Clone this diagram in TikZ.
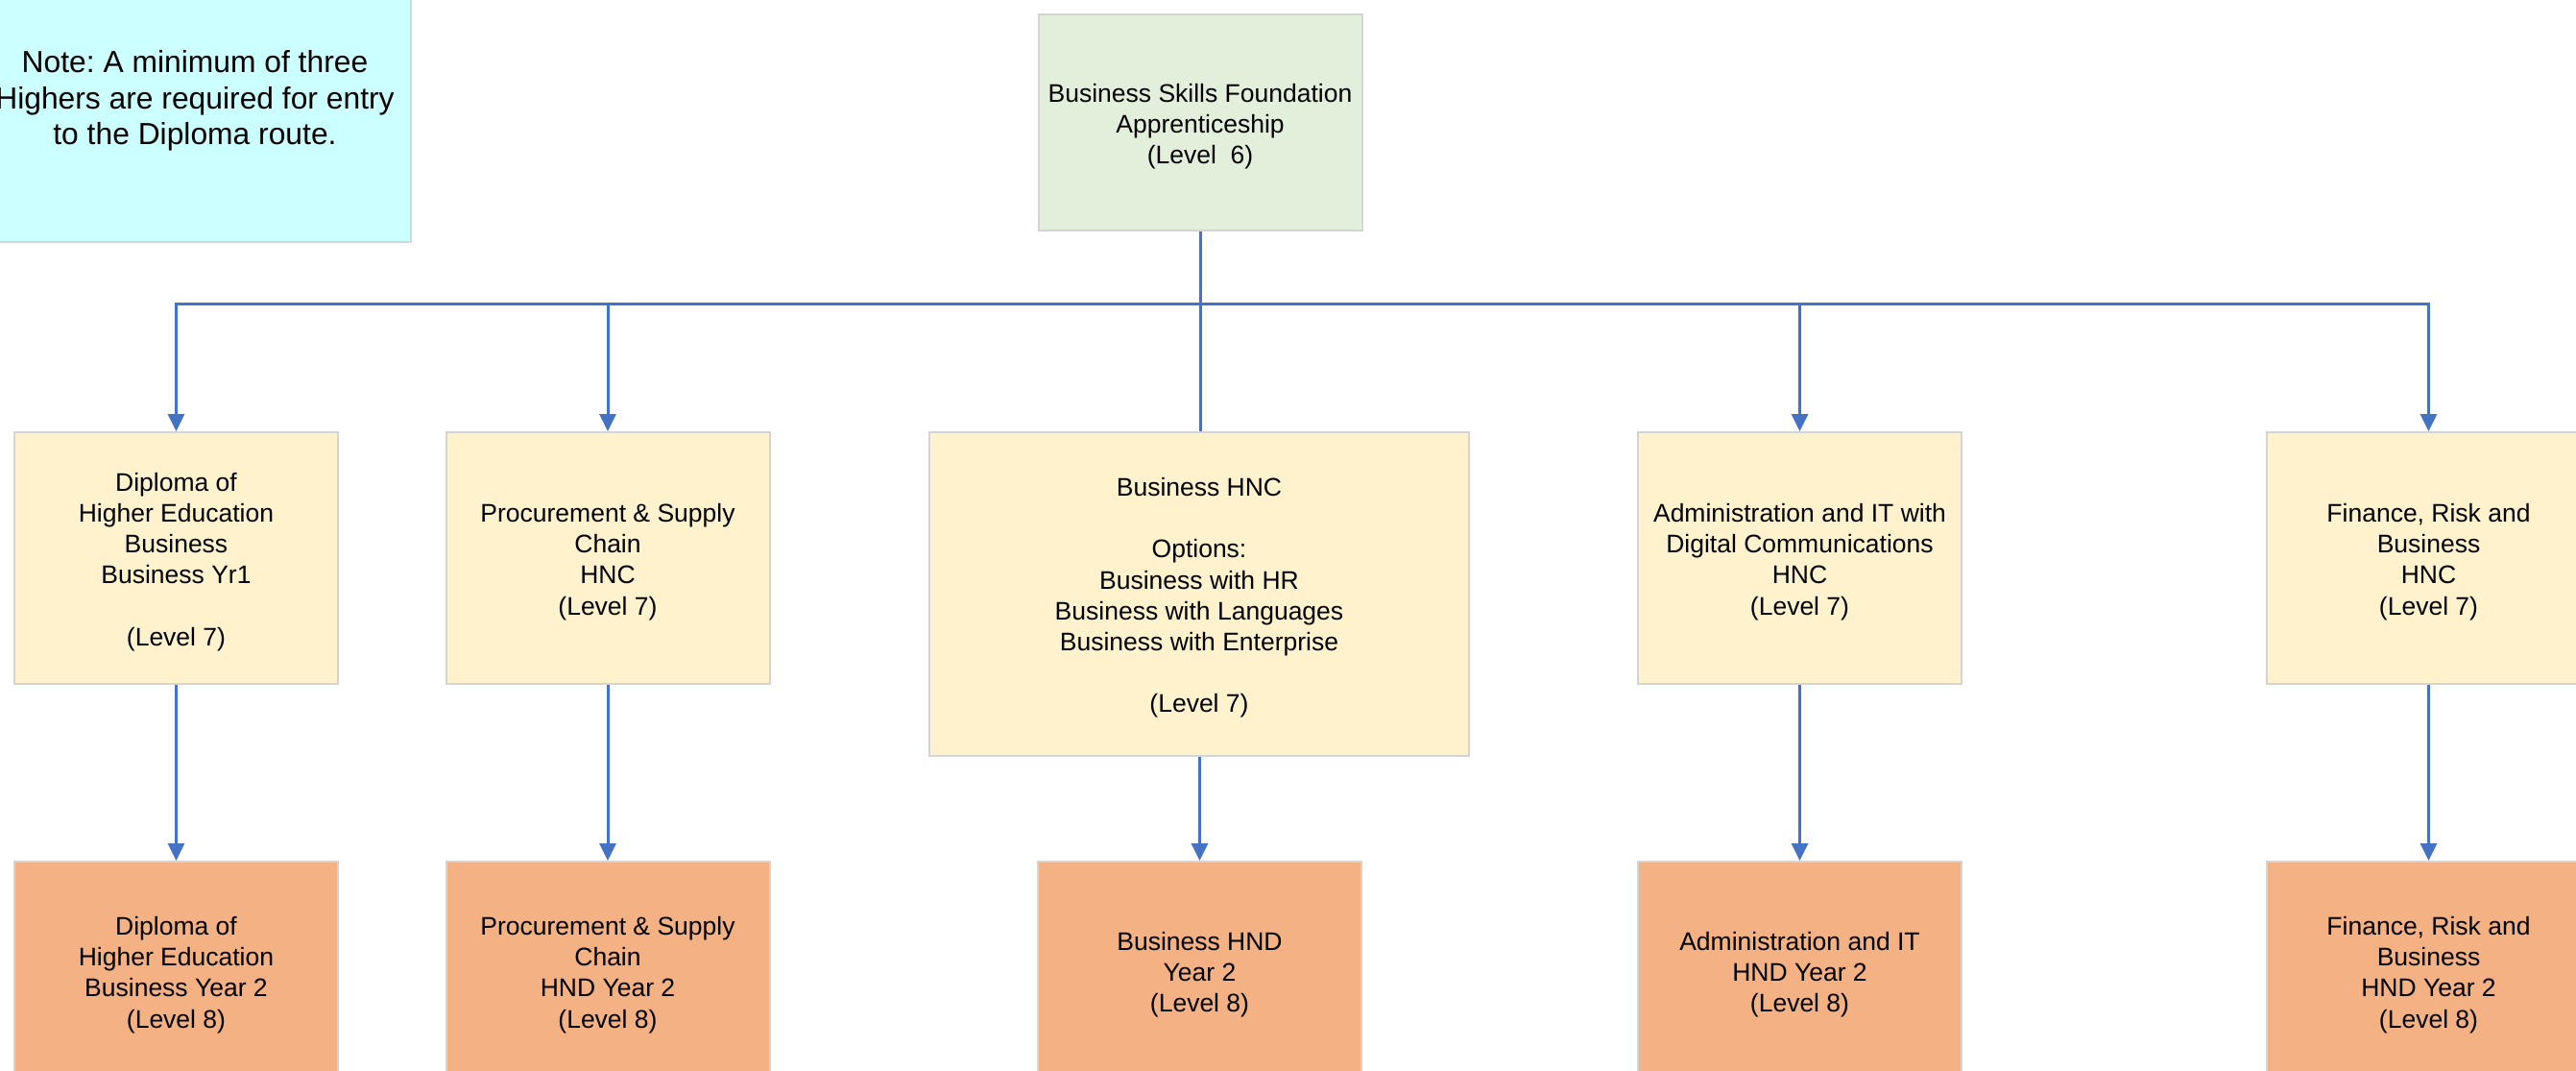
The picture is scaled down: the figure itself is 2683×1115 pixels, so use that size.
\documentclass[tikz,border=0pt]{standalone}
\usepackage{fontspec}
\setmainfont{Liberation Sans}
\frenchspacing
\usetikzlibrary{arrows.meta}
\definecolor{bluel}{HTML}{4472C4}
\definecolor{notec}{HTML}{CCFFFF}
\definecolor{greenc}{HTML}{E2EFDA}
\definecolor{yellowc}{HTML}{FFF2CC}
\definecolor{orangec}{HTML}{F4B183}
\definecolor{borderc}{HTML}{D4D4D4}
\newcommand\tstrut{\rule{0pt}{27pt}}
\newcommand\nstrut{\rule{0pt}{31pt}}
\begin{document}
\begin{tikzpicture}[x=1pt,y=-1pt,
  box/.style={draw=borderc, line width=2pt, rectangle, inner sep=0pt, align=center,
    font=\fontsize{26.5}{32.2}\selectfont, text=black},
  small/.style={box, minimum width=337pt},
  lvl7/.style={small, fill=yellowc, minimum height=262pt},
  lvl8/.style={small, fill=orangec, minimum height=228pt},
  conn/.style={draw=bluel, line width=3pt},
  arr/.style={conn, -{Triangle[width=17pt,length=18pt]}}]
\useasboundingbox (0,0) rectangle (2683,1115);
\clip (0,0) rectangle (2683,1115);
% note
\node[box, fill=notec, minimum width=450pt, minimum height=302pt,
  font=\fontsize{31.8}{37.5}\selectfont] (note) at (203,101)
  {\nstrut Note: A minimum of three\\ Highers are required for entry\\ to the Diploma route.};
% top
\node[small, fill=greenc, minimum height=225pt] (top) at (1250,127.5)
  {\tstrut Business Skills Foundation\\ Apprenticeship\\ (Level\ \ 6)};
% row 2
\node[lvl7] (a2) at (183.5,581) {\tstrut Diploma of\\ Higher Education\\ Business\\ Business Yr1\\ \mbox{}\\ (Level 7)};
\node[lvl7] (b2) at (633,581) {\tstrut Procurement \& Supply\\ Chain\\ HNC\\ (Level 7)};
\node[box, fill=yellowc, minimum width=562pt, minimum height=337pt] (c2) at (1249,618.5)
  {\tstrut Business HNC\\ \mbox{}\\ Options:\\ Business with HR\\ Business with Languages\\ Business with Enterprise\\ \mbox{}\\ (Level 7)};
\node[lvl7] (d2) at (1874.5,581) {\tstrut Administration and IT with\\ Digital Communications\\ HNC\\ (Level 7)};
\node[lvl7] (e2) at (2529.5,581) {\tstrut Finance, Risk and\\ Business\\ HNC\\ (Level 7)};
% row 3
\node[lvl8] (a3) at (183.5,1011) {\tstrut Diploma of\\ Higher Education\\ Business Year 2\\ (Level 8)};
\node[lvl8] (b3) at (633,1011) {\tstrut Procurement \& Supply\\ Chain\\ HND Year 2\\ (Level 8)};
\node[lvl8] (c3) at (1249.5,1011) {\tstrut Business HND\\ Year 2\\ (Level 8)};
\node[lvl8] (d3) at (1874.5,1011) {\tstrut Administration and IT\\ HND Year 2\\ (Level 8)};
\node[lvl8] (e3) at (2529.5,1011) {\tstrut Finance, Risk and\\ Business\\ HND Year 2\\ (Level 8)};
% connectors
\coordinate (bus) at (1250,317);
\draw[conn] (top.south) -- (top.south |- c2.north);
\draw[arr] (bus) -| (a2.north);
\draw[arr] (bus) -| (b2.north);
\draw[arr] (bus) -| (d2.north);
\draw[arr] (bus) -| (e2.north);
\draw[arr] (a2) -- (a3);
\draw[arr] (b2) -- (b3);
\draw[arr] (c2.south -| c3.north) -- (c3.north);
\draw[arr] (d2) -- (d3);
\draw[arr] (e2) -- (e3);
\end{tikzpicture}
\end{document}
